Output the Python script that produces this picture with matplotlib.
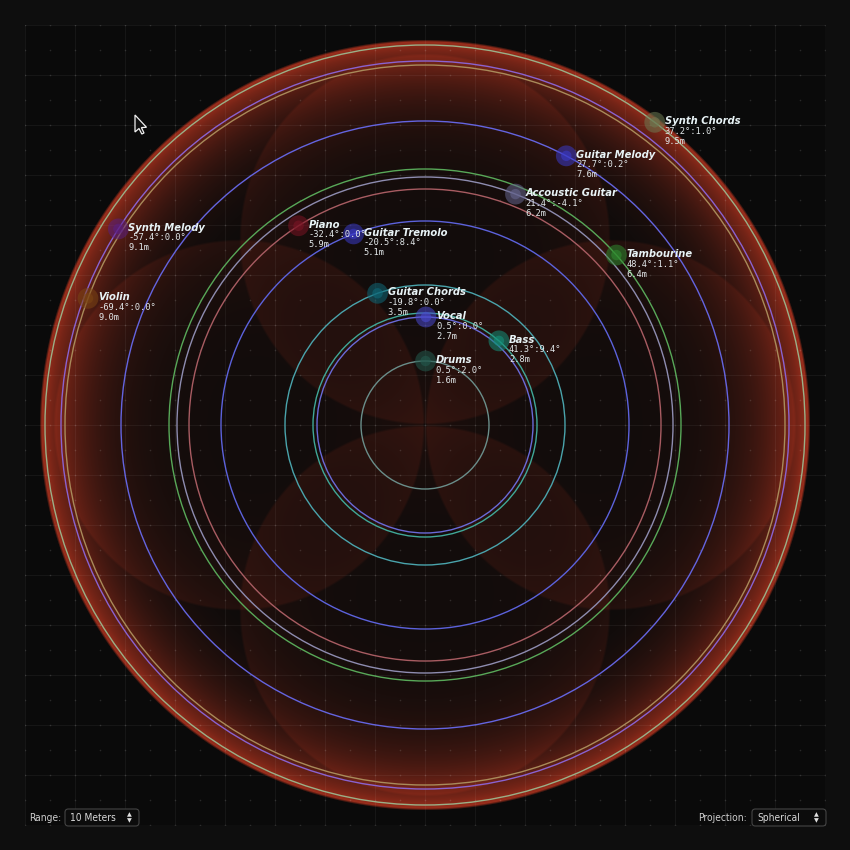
"""
Spatial audio source map (top view, spherical projection)
"""

import numpy as np
import matplotlib.pyplot as plt
from matplotlib.patches import Circle, FancyBboxPatch, Polygon


RANGE = 10

names = [
    "Synth Chords", "Guitar Melody", "Accoustic Guitar", "Tambourine",
    "Synth Melody", "Piano", "Guitar Tremolo", "Guitar Chords",
    "Vocal", "Bass", "Drums", "Violin",
]
azimuth = [37.2, 27.7, 21.4, 48.4, -57.4, -32.4, -20.5, -19.8, 0.5, 41.3, 0.5, -69.4]
elevation = [1.0, 0.2, -4.1, 1.1, 0.0, 0.0, 8.4, 0.0, 0.0, 9.4, 2.0, 0.0]
distance = [9.5, 7.6, 6.2, 6.4, 9.1, 5.9, 5.1, 3.5, 2.7, 2.8, 1.6, 9.0]

dot_colors = [
    "#6b7a52", "#3a3ac8", "#65658e", "#2f8a2f",
    "#5a1e80", "#7a1424", "#3a3ac8", "#0f6878",
    "#4a4ad0", "#14907a", "#235a4e", "#7a4414",
]
ring_colors = [
    "#9ab088", "#6464e0", "#8e8cb0", "#58a858",
    "#8a62d0", "#a85c62", "#5c62dc", "#4aa4ac",
    "#6a6ad8", "#40a898", "#6a8e8a", "#a88a5a",
]

# listening lobes drawn behind the sources
lobe_angles = [0, 90, 180, 270]
LOBE_RADIUS = 4.65
OUTER_RADIUS = 9.65

BG = "#0e0e0e"
PANEL = "#0a0a0a"


def background_glow():
    n = 800
    xs = np.linspace(-RANGE, RANGE, n)
    X, Y = np.meshgrid(xs, xs)
    R = np.hypot(X, Y)

    edge = np.clip((OUTER_RADIUS - R) / 0.06, 0, 1)
    glow = (R / OUTER_RADIUS) ** 9 * 0.88 * edge
    # slightly brighter rim band
    glow += np.clip((R - 9.35) / 0.3, 0, 1) * 0.07 * edge

    for ang in lobe_angles:
        cx = LOBE_RADIUS * np.sin(np.radians(ang))
        cy = LOBE_RADIUS * np.cos(np.radians(ang))
        d = np.hypot(X - cx, Y - cy)
        inside = np.clip((LOBE_RADIUS - d) / 0.06, 0, 1)
        glow += inside * (0.05 + 0.08 * (d / LOBE_RADIUS) ** 3)

    a = np.clip(glow, 0, 0.93)[..., None]
    base = np.array([10, 10, 10]) / 255
    red = np.array([172, 50, 30]) / 255
    return base * (1 - a) + red * a


def fx(px):
    return px / 850


def fy(py):
    return 1 - py / 850


def control(fig, label, value, label_x, box_x, box_w):
    fig.text(fx(label_x), fy(818), label, color="#d0d0d0", fontsize=7.3,
             fontstretch="condensed", va="center", ha="left")
    box = FancyBboxPatch(
        (fx(box_x), fy(826)), fx(box_w), 17 / 850,
        boxstyle="round,pad=0,rounding_size=0.004",
        transform=fig.transFigure, facecolor="#0c0c0c",
        edgecolor="#444444", linewidth=0.8,
    )
    fig.patches.append(box)
    fig.text(fx(box_x + 5), fy(818), value, color="#d8d8d8", fontsize=7.3,
             fontstretch="condensed", va="center", ha="left")
    ax_x = fx(box_x + box_w - 10)
    fig.text(ax_x, fy(815), "▲", color="#e0e0e0", fontsize=4.5,
             ha="center", va="center")
    fig.text(ax_x, fy(821), "▼", color="#e0e0e0", fontsize=4.5,
             ha="center", va="center")


def main():

    fig = plt.figure(figsize=(8.5, 8.5), dpi=100, facecolor=BG)
    ax = fig.add_axes([25 / 850, 25 / 850, 800 / 850, 800 / 850])
    ax.set_facecolor(PANEL)
    ax.set_xlim(-RANGE, RANGE)
    ax.set_ylim(-RANGE, RANGE)
    ax.set_aspect("equal")
    ax.axis("off")

    ax.imshow(background_glow(), extent=[-RANGE, RANGE, -RANGE, RANGE],
              origin="lower", interpolation="bilinear", zorder=0)

    # grid: lines every 1.25 m, dots every 0.625 m
    major = np.arange(-RANGE, RANGE + 0.01, 1.25)
    for v in major:
        ax.axvline(v, color="white", alpha=0.05, lw=0.8, zorder=1)
        ax.axhline(v, color="white", alpha=0.05, lw=0.8, zorder=1)

    minor = np.arange(-RANGE, RANGE + 0.01, 0.625)
    gx, gy = np.meshgrid(minor, minor)
    ax.scatter(gx.ravel(), gy.ravel(), s=1.3, color="white", alpha=0.13,
               linewidths=0, zorder=1)

    # distance rings
    for d, c in zip(distance, ring_colors):
        ax.add_patch(Circle((0, 0), d, fill=False, ec=c, lw=1.0, zorder=2))

    # sources
    for name, az, el, d, c in zip(names, azimuth, elevation, distance,
                                  dot_colors):
        x = d * np.sin(np.radians(az))
        y = d * np.cos(np.radians(az))
        ax.add_patch(Circle((x, y), 0.26, color=c, alpha=0.55, lw=0,
                            zorder=3))
        ax.add_patch(Circle((x, y), 0.13, color=c, alpha=0.6, lw=0,
                            zorder=3))

        ax.annotate(name, (x, y), xytext=(10, 1),
                    textcoords="offset pixels", color="#e8f3f6",
                    fontsize=7.2, fontweight="bold", fontstyle="italic",
                    ha="left", va="center", zorder=4)
        ax.annotate(f"{az:.1f}°:{el:.1f}°", (x, y), xytext=(10, -9),
                    textcoords="offset pixels", color="#e2e8ea",
                    fontsize=6.3, family="DejaVu Sans Mono",
                    ha="left", va="center", zorder=4)
        ax.annotate(f"{d:.1f}m", (x, y), xytext=(10, -19),
                    textcoords="offset pixels", color="#e2e8ea",
                    fontsize=6.3, family="DejaVu Sans Mono",
                    ha="left", va="center", zorder=4)

    # bottom controls
    control(fig, "Range:", f"{RANGE} Meters", 29, 65, 74)
    control(fig, "Projection:", "Spherical", 698, 752, 74)

    # mouse pointer left in the screenshot
    tip_x, tip_y = 135, 115
    shape = [(0, 0), (0, 17), (4, 13.5), (6.8, 19), (9, 18), (6.4, 12.6),
             (11.5, 12.3)]
    cursor = Polygon([(fx(tip_x + a), fy(tip_y + b)) for a, b in shape],
                     closed=True, transform=fig.transFigure,
                     facecolor="#111111", edgecolor="#f0f0f0", lw=0.9)
    fig.patches.append(cursor)

    fig.savefig("out.png", dpi=100, facecolor=BG)
    plt.close(fig)


if __name__ == "__main__":
    main()
